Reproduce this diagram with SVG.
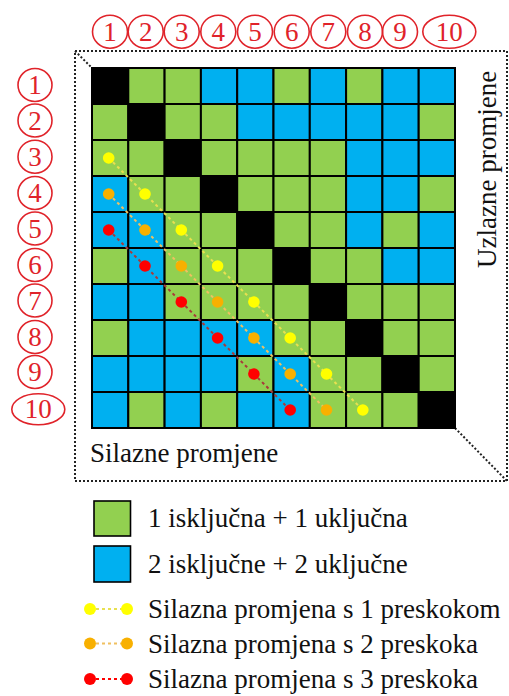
<svg xmlns="http://www.w3.org/2000/svg" width="509" height="696" viewBox="0 0 509 696">
<style>
.lbl{fill:none;stroke:#e0232a;stroke-width:1.6}
.num{font-family:"Liberation Serif","Times New Roman",serif;font-size:27px;fill:#e0232a;text-anchor:middle}
.txt{font-family:"Liberation Serif","Times New Roman",serif;font-size:27px;fill:#111}
.G{fill:#92d050;stroke:#000;stroke-width:2}
.U{fill:#00b0f0;stroke:#000;stroke-width:2}
.B{fill:#000;stroke:#000;stroke-width:2}
.frame{fill:none;stroke:#222;stroke-width:2;stroke-dasharray:2 2}
.y{fill:#ffff00}
.o{fill:#f8b000}
.r{fill:#ff0000}
.ly{stroke:#e8e050;stroke-width:2;stroke-dasharray:3 3;fill:none}
.lo{stroke:#f0c060;stroke-width:2;stroke-dasharray:3 3;fill:none}
.lr{stroke:#a83a3a;stroke-width:2;stroke-dasharray:3 3;fill:none}
.lr2{stroke:#ff0000;stroke-width:2;stroke-dasharray:3 3;fill:none}
</style>

<g id="frame">
<rect class="frame" x="75" y="51" width="432" height="430"/>
<line class="frame" x1="75" y1="51" x2="92" y2="68"/>
<line class="frame" x1="455" y1="428" x2="507" y2="481"/>
</g>

<g id="column-labels">
<g id="col1"><ellipse class="lbl" cx="110" cy="31.7" rx="17.5" ry="16.5"/><text class="num" x="110" y="41">1</text></g>
<g id="col2"><ellipse class="lbl" cx="145.7" cy="31.7" rx="17.5" ry="16.5"/><text class="num" x="145.7" y="41">2</text></g>
<g id="col3"><ellipse class="lbl" cx="181.7" cy="31.7" rx="17.5" ry="16.5"/><text class="num" x="181.7" y="41">3</text></g>
<g id="col4"><ellipse class="lbl" cx="218.3" cy="31.7" rx="17.5" ry="16.5"/><text class="num" x="218.3" y="41">4</text></g>
<g id="col5"><ellipse class="lbl" cx="255" cy="31.7" rx="17.5" ry="16.5"/><text class="num" x="255" y="41">5</text></g>
<g id="col6"><ellipse class="lbl" cx="291.7" cy="31.7" rx="17.5" ry="16.5"/><text class="num" x="291.7" y="41">6</text></g>
<g id="col7"><ellipse class="lbl" cx="328.3" cy="31.7" rx="17.5" ry="16.5"/><text class="num" x="328.3" y="41">7</text></g>
<g id="col8"><ellipse class="lbl" cx="365" cy="31.7" rx="17.5" ry="16.5"/><text class="num" x="365" y="41">8</text></g>
<g id="col9"><ellipse class="lbl" cx="400" cy="31.7" rx="17.5" ry="16.5"/><text class="num" x="400" y="41">9</text></g>
<g id="col10"><ellipse class="lbl" cx="449.3" cy="31.7" rx="26.5" ry="16.5"/><text class="num" x="449.3" y="41">10</text></g>
</g>

<g id="row-labels">
<g id="row1"><ellipse class="lbl" cx="35" cy="85" rx="17" ry="16.5"/><text class="num" x="35" y="94">1</text></g>
<g id="row2"><ellipse class="lbl" cx="35" cy="120.5" rx="17" ry="16.5"/><text class="num" x="35" y="129.5">2</text></g>
<g id="row3"><ellipse class="lbl" cx="35" cy="156.7" rx="17" ry="16.5"/><text class="num" x="35" y="165.7">3</text></g>
<g id="row4"><ellipse class="lbl" cx="35" cy="193" rx="17" ry="16.5"/><text class="num" x="35" y="202">4</text></g>
<g id="row5"><ellipse class="lbl" cx="35" cy="228.5" rx="17" ry="16.5"/><text class="num" x="35" y="237.5">5</text></g>
<g id="row6"><ellipse class="lbl" cx="35" cy="265" rx="17" ry="16.5"/><text class="num" x="35" y="274">6</text></g>
<g id="row7"><ellipse class="lbl" cx="35" cy="300.5" rx="17" ry="16.5"/><text class="num" x="35" y="309.5">7</text></g>
<g id="row8"><ellipse class="lbl" cx="35" cy="337" rx="17" ry="16.5"/><text class="num" x="35" y="346">8</text></g>
<g id="row9"><ellipse class="lbl" cx="35" cy="372" rx="17" ry="16.5"/><text class="num" x="35" y="381">9</text></g>
<g id="row10"><ellipse class="lbl" cx="38.3" cy="409.3" rx="26.5" ry="15.5"/><text class="num" x="38.3" y="418.3">10</text></g>
</g>

<g id="grid">
<!-- row 1: B G G U U G U G U U -->
<rect class="B" x="92" y="68" width="36.3" height="36"/>
<rect class="G" x="128.3" y="68" width="36.3" height="36"/>
<rect class="G" x="164.6" y="68" width="36.3" height="36"/>
<rect class="U" x="200.9" y="68" width="36.3" height="36"/>
<rect class="U" x="237.2" y="68" width="36.3" height="36"/>
<rect class="G" x="273.5" y="68" width="36.3" height="36"/>
<rect class="U" x="309.8" y="68" width="36.3" height="36"/>
<rect class="G" x="346.1" y="68" width="36.3" height="36"/>
<rect class="U" x="382.4" y="68" width="36.3" height="36"/>
<rect class="U" x="418.7" y="68" width="36.3" height="36"/>
<!-- row 2: G B G G U U U U U G -->
<rect class="G" x="92" y="104" width="36.3" height="36"/>
<rect class="B" x="128.3" y="104" width="36.3" height="36"/>
<rect class="G" x="164.6" y="104" width="36.3" height="36"/>
<rect class="G" x="200.9" y="104" width="36.3" height="36"/>
<rect class="U" x="237.2" y="104" width="36.3" height="36"/>
<rect class="U" x="273.5" y="104" width="36.3" height="36"/>
<rect class="U" x="309.8" y="104" width="36.3" height="36"/>
<rect class="U" x="346.1" y="104" width="36.3" height="36"/>
<rect class="U" x="382.4" y="104" width="36.3" height="36"/>
<rect class="G" x="418.7" y="104" width="36.3" height="36"/>
<!-- row 3: G G B G G G G U U U -->
<rect class="G" x="92" y="140" width="36.3" height="36"/>
<rect class="G" x="128.3" y="140" width="36.3" height="36"/>
<rect class="B" x="164.6" y="140" width="36.3" height="36"/>
<rect class="G" x="200.9" y="140" width="36.3" height="36"/>
<rect class="G" x="237.2" y="140" width="36.3" height="36"/>
<rect class="G" x="273.5" y="140" width="36.3" height="36"/>
<rect class="G" x="309.8" y="140" width="36.3" height="36"/>
<rect class="U" x="346.1" y="140" width="36.3" height="36"/>
<rect class="U" x="382.4" y="140" width="36.3" height="36"/>
<rect class="U" x="418.7" y="140" width="36.3" height="36"/>
<!-- row 4: U G G B G G G U U G -->
<rect class="U" x="92" y="176" width="36.3" height="36"/>
<rect class="G" x="128.3" y="176" width="36.3" height="36"/>
<rect class="G" x="164.6" y="176" width="36.3" height="36"/>
<rect class="B" x="200.9" y="176" width="36.3" height="36"/>
<rect class="G" x="237.2" y="176" width="36.3" height="36"/>
<rect class="G" x="273.5" y="176" width="36.3" height="36"/>
<rect class="G" x="309.8" y="176" width="36.3" height="36"/>
<rect class="U" x="346.1" y="176" width="36.3" height="36"/>
<rect class="U" x="382.4" y="176" width="36.3" height="36"/>
<rect class="G" x="418.7" y="176" width="36.3" height="36"/>
<!-- row 5: U U G G B G G U G U -->
<rect class="U" x="92" y="212" width="36.3" height="36"/>
<rect class="U" x="128.3" y="212" width="36.3" height="36"/>
<rect class="G" x="164.6" y="212" width="36.3" height="36"/>
<rect class="G" x="200.9" y="212" width="36.3" height="36"/>
<rect class="B" x="237.2" y="212" width="36.3" height="36"/>
<rect class="G" x="273.5" y="212" width="36.3" height="36"/>
<rect class="G" x="309.8" y="212" width="36.3" height="36"/>
<rect class="U" x="346.1" y="212" width="36.3" height="36"/>
<rect class="G" x="382.4" y="212" width="36.3" height="36"/>
<rect class="U" x="418.7" y="212" width="36.3" height="36"/>
<!-- row 6: G U G G G B G G U U -->
<rect class="G" x="92" y="248" width="36.3" height="36"/>
<rect class="U" x="128.3" y="248" width="36.3" height="36"/>
<rect class="G" x="164.6" y="248" width="36.3" height="36"/>
<rect class="G" x="200.9" y="248" width="36.3" height="36"/>
<rect class="G" x="237.2" y="248" width="36.3" height="36"/>
<rect class="B" x="273.5" y="248" width="36.3" height="36"/>
<rect class="G" x="309.8" y="248" width="36.3" height="36"/>
<rect class="G" x="346.1" y="248" width="36.3" height="36"/>
<rect class="U" x="382.4" y="248" width="36.3" height="36"/>
<rect class="U" x="418.7" y="248" width="36.3" height="36"/>
<!-- row 7: U U G G G G B G G G -->
<rect class="U" x="92" y="284" width="36.3" height="36"/>
<rect class="U" x="128.3" y="284" width="36.3" height="36"/>
<rect class="G" x="164.6" y="284" width="36.3" height="36"/>
<rect class="G" x="200.9" y="284" width="36.3" height="36"/>
<rect class="G" x="237.2" y="284" width="36.3" height="36"/>
<rect class="G" x="273.5" y="284" width="36.3" height="36"/>
<rect class="B" x="309.8" y="284" width="36.3" height="36"/>
<rect class="G" x="346.1" y="284" width="36.3" height="36"/>
<rect class="G" x="382.4" y="284" width="36.3" height="36"/>
<rect class="G" x="418.7" y="284" width="36.3" height="36"/>
<!-- row 8: G U U U U G G B G G -->
<rect class="G" x="92" y="320" width="36.3" height="36"/>
<rect class="U" x="128.3" y="320" width="36.3" height="36"/>
<rect class="U" x="164.6" y="320" width="36.3" height="36"/>
<rect class="U" x="200.9" y="320" width="36.3" height="36"/>
<rect class="U" x="237.2" y="320" width="36.3" height="36"/>
<rect class="G" x="273.5" y="320" width="36.3" height="36"/>
<rect class="G" x="309.8" y="320" width="36.3" height="36"/>
<rect class="B" x="346.1" y="320" width="36.3" height="36"/>
<rect class="G" x="382.4" y="320" width="36.3" height="36"/>
<rect class="G" x="418.7" y="320" width="36.3" height="36"/>
<!-- row 9: U U U U G U G G B G -->
<rect class="U" x="92" y="356" width="36.3" height="36"/>
<rect class="U" x="128.3" y="356" width="36.3" height="36"/>
<rect class="U" x="164.6" y="356" width="36.3" height="36"/>
<rect class="U" x="200.9" y="356" width="36.3" height="36"/>
<rect class="G" x="237.2" y="356" width="36.3" height="36"/>
<rect class="U" x="273.5" y="356" width="36.3" height="36"/>
<rect class="G" x="309.8" y="356" width="36.3" height="36"/>
<rect class="G" x="346.1" y="356" width="36.3" height="36"/>
<rect class="B" x="382.4" y="356" width="36.3" height="36"/>
<rect class="G" x="418.7" y="356" width="36.3" height="36"/>
<!-- row 10: U G U G U U G G G B -->
<rect class="U" x="92" y="392" width="36.3" height="36"/>
<rect class="G" x="128.3" y="392" width="36.3" height="36"/>
<rect class="U" x="164.6" y="392" width="36.3" height="36"/>
<rect class="G" x="200.9" y="392" width="36.3" height="36"/>
<rect class="U" x="237.2" y="392" width="36.3" height="36"/>
<rect class="U" x="273.5" y="392" width="36.3" height="36"/>
<rect class="G" x="309.8" y="392" width="36.3" height="36"/>
<rect class="G" x="346.1" y="392" width="36.3" height="36"/>
<rect class="G" x="382.4" y="392" width="36.3" height="36"/>
<rect class="B" x="418.7" y="392" width="36.3" height="36"/>
</g>

<g id="connectors">
<line class="ly" x1="108.7" y1="158" x2="362.8" y2="410"/>
<line class="lo" x1="108.7" y1="194" x2="326.5" y2="410"/>
<line class="lr" x1="108.7" y1="230" x2="290.2" y2="410"/>
</g>

<g id="dots-yellow" class="y">
<circle cx="108.7" cy="158" r="5.8"/><circle cx="145" cy="194" r="5.8"/><circle cx="181.3" cy="230" r="5.8"/><circle cx="217.6" cy="266" r="5.8"/>
<circle cx="253.9" cy="302" r="5.8"/><circle cx="290.2" cy="338" r="5.8"/><circle cx="326.5" cy="374" r="5.8"/><circle cx="362.8" cy="410" r="5.8"/>
</g>
<g id="dots-orange" class="o">
<circle cx="108.7" cy="194" r="5.8"/><circle cx="145" cy="230" r="5.8"/><circle cx="181.3" cy="266" r="5.8"/><circle cx="217.6" cy="302" r="5.8"/>
<circle cx="253.9" cy="338" r="5.8"/><circle cx="290.2" cy="374" r="5.8"/><circle cx="326.5" cy="410" r="5.8"/>
</g>
<g id="dots-red" class="r">
<circle cx="108.7" cy="230" r="5.8"/><circle cx="145" cy="266" r="5.8"/><circle cx="181.3" cy="302" r="5.8"/><circle cx="217.6" cy="338" r="5.8"/>
<circle cx="253.9" cy="374" r="5.8"/><circle cx="290.2" cy="410" r="5.8"/>
</g>

<g id="axis-labels">
<text class="txt" x="90" y="462">Silazne promjene</text>
<text class="txt" transform="translate(496,268) rotate(-90)">Uzlazne promjene</text>
</g>

<g id="legend">
<g id="leg-green"><rect class="G" x="94" y="501" width="36.5" height="35" style="stroke-width:1.6"/><text class="txt" x="148" y="527">1 isključna + 1 uključna</text></g>
<g id="leg-blue"><rect class="U" x="94" y="546" width="36.5" height="36" style="stroke-width:1.6"/><text class="txt" x="148" y="573">2 isključne + 2 uključne</text></g>
<g id="leg-yellow"><line class="ly" x1="90" y1="609" x2="127" y2="609"/><circle class="y" cx="90" cy="609" r="6"/><circle class="y" cx="127" cy="609" r="6"/><text class="txt" x="148" y="618">Silazna promjena s 1 preskokom</text></g>
<g id="leg-orange"><line class="lo" x1="90" y1="643.5" x2="127" y2="643.5"/><circle class="o" cx="90" cy="643.5" r="6"/><circle class="o" cx="127" cy="643.5" r="6"/><text class="txt" x="148" y="653">Silazna promjena s 2 preskoka</text></g>
<g id="leg-red"><line class="lr2" x1="90" y1="679" x2="127" y2="679"/><circle class="r" cx="90" cy="679" r="6"/><circle class="r" cx="127" cy="679" r="6"/><text class="txt" x="148" y="688">Silazna promjena s 3 preskoka</text></g>
</g>
</svg>
